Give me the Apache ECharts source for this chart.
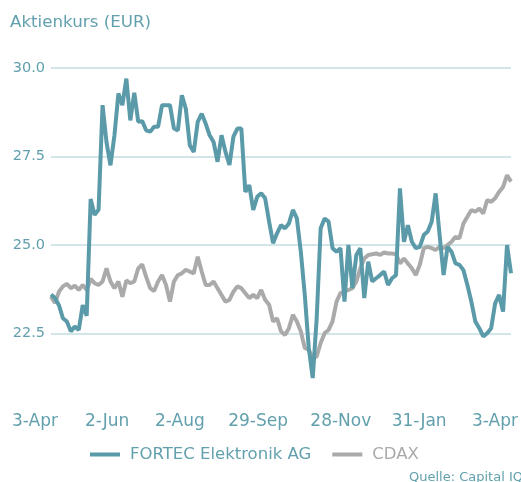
<!DOCTYPE html>
<html>
<head>
<meta charset="utf-8">
<title>Aktienkurs</title>
<script src="https://cdn.jsdelivr.net/npm/echarts@6/dist/echarts.min.js"></script>
<style>
  html, body { margin: 0; padding: 0; background: #fff; }
  #chart { width: 521px; height: 482px; }
</style>
</head>
<body>
<div id="chart"></div>
<script>
// trading days, one point every ~2 sessions, 3-Apr .. 3-Apr
const fortec = [
  23.6, 23.5, 23.3, 22.93, 22.84, 22.56, 22.7, 22.6, 23.3, 23.0,
  26.3, 25.85, 26.0, 28.95, 27.9, 27.25, 28.1, 29.28, 28.95, 29.7,
  28.52, 29.3, 28.48, 28.5, 28.24, 28.2, 28.34, 28.34, 28.95, 28.95,
  28.95, 28.29, 28.24, 29.23, 28.85, 27.82, 27.63, 28.48, 28.71, 28.43,
  28.1, 27.91, 27.35, 28.1, 27.63, 27.26, 28.06, 28.29, 28.29, 26.5,
  26.69, 25.99, 26.36, 26.46, 26.32, 25.66, 25.05, 25.33, 25.56,
  25.47, 25.61, 25.99, 25.75, 24.81, 23.59, 22.09, 21.24, 22.93, 25.47,
  25.75, 25.66, 24.91, 24.81, 24.91, 23.4, 25.0, 23.78, 24.72, 24.91,
  23.5, 24.53, 23.97, 24.06, 24.15, 24.25, 23.87, 24.06, 24.15, 26.6,
  25.09, 25.56, 25.09, 24.91, 24.95, 25.28, 25.38, 25.66, 26.46, 25.28,
  24.15, 24.95, 24.81, 24.48, 24.44, 24.29, 23.87, 23.4, 22.84, 22.65,
  22.42, 22.51, 22.65, 23.35, 23.59, 23.12, 25.0, 24.2
];
const cdax = [
  23.54, 23.36, 23.68, 23.83, 23.9, 23.78, 23.85, 23.73, 23.87, 23.73,
  24.04, 23.92, 23.87, 23.97, 24.34, 23.97, 23.78, 23.97, 23.54, 24.0,
  23.92, 23.97, 24.34, 24.45, 24.1, 23.78, 23.7, 23.97, 24.15, 23.87,
  23.4, 23.97, 24.15, 24.2, 24.3, 24.25, 24.2, 24.67, 24.25, 23.87,
  23.87, 23.97, 23.78, 23.59, 23.4, 23.45, 23.68, 23.83, 23.78, 23.64,
  23.5, 23.59, 23.5, 23.73, 23.45, 23.31, 22.84, 22.93, 22.56,
  22.46, 22.65, 23.03, 22.84, 22.56, 22.09, 22.04, 21.8, 21.85, 22.23,
  22.51, 22.6, 22.84, 23.4, 23.64, 23.68, 23.73, 23.78, 23.97, 24.34,
  24.62, 24.72, 24.74, 24.76, 24.72, 24.79, 24.76, 24.76, 24.74, 24.48,
  24.62, 24.48, 24.34, 24.15, 24.44, 24.91, 24.95, 24.91, 24.86, 24.95,
  24.91, 25.0, 25.09, 25.23, 25.19, 25.61, 25.8, 25.99, 25.94, 26.03,
  25.89, 26.27, 26.22, 26.32, 26.5, 26.64, 26.97, 26.79
];
const tickLabels = ['3-Apr', '2-Jun', '2-Aug', '29-Sep', '28-Nov', '31-Jan', '3-Apr'];
const tickIndex = [0, 18, 37, 58, 79, 98, 116];

const categories = fortec.map((_, i) => i);
const teal = '#5b9aa9';
const tealText = '#62a0ad';
const grey = '#aaaaaa';
const font = 'DejaVu Sans';

const chart = echarts.init(document.getElementById('chart'));
chart.setOption({
  animation: false,
  textStyle: { fontFamily: font },
  title: {
    text: 'Aktienkurs (EUR)',
    left: 5,
    top: 9,
    textStyle: { fontFamily: font, fontSize: 16.7, fontWeight: 'normal', color: tealText }
  },
  grid: { left: 51, right: 3, top: 68, bottom: 60, containLabel: false },
  legend: {
    left: 85,
    top: 441,
    icon: 'rect',
    itemWidth: 30,
    itemHeight: 4,
    itemGap: 21,
    data: [
      { name: 'FORTEC Elektronik AG', textStyle: { color: tealText } },
      { name: 'CDAX', textStyle: { color: grey } }
    ],
    textStyle: { fontFamily: font, fontSize: 16.5, padding: [0, 0, 0, 5] }
  },
  graphic: [{
    type: 'text',
    left: 409,
    top: 471,
    style: { text: 'Quelle: Capital IQ', fill: tealText, font: '13px "DejaVu Sans"' }
  }],
  xAxis: {
    type: 'category',
    data: categories,
    boundaryGap: false,
    axisLine: { show: false },
    axisTick: { show: false },
    axisLabel: {
      interval: (i) => tickIndex.indexOf(i) >= 0,
      formatter: (v, i) => tickLabels[tickIndex.indexOf(i)] || '',
      align: 'right',
      padding: [0, -7, 0, 0],
      margin: -9,
      color: tealText,
      fontSize: 17,
      fontFamily: font
    }
  },
  yAxis: {
    type: 'value',
    min: 20,
    max: 30,
    interval: 2.5,
    axisLine: { show: false },
    axisTick: { show: false },
    axisLabel: {
      showMinLabel: false,
      margin: 6,
      color: tealText,
      fontSize: 14.5,
      fontFamily: font,
      formatter: (v) => v.toFixed(1)
    },
    splitLine: { showMinLine: false, lineStyle: { color: '#c3dce2', width: 1.5 } }
  },
  series: [
    {
      name: 'CDAX',
      type: 'line',
      data: cdax,
      symbol: 'none',
      z: 2,
      lineStyle: { color: grey, width: 4 },
      itemStyle: { color: grey }
    },
    {
      name: 'FORTEC Elektronik AG',
      type: 'line',
      data: fortec,
      symbol: 'none',
      z: 3,
      lineStyle: { color: teal, width: 4 },
      itemStyle: { color: teal }
    }
  ]
});
</script>
</body>
</html>
